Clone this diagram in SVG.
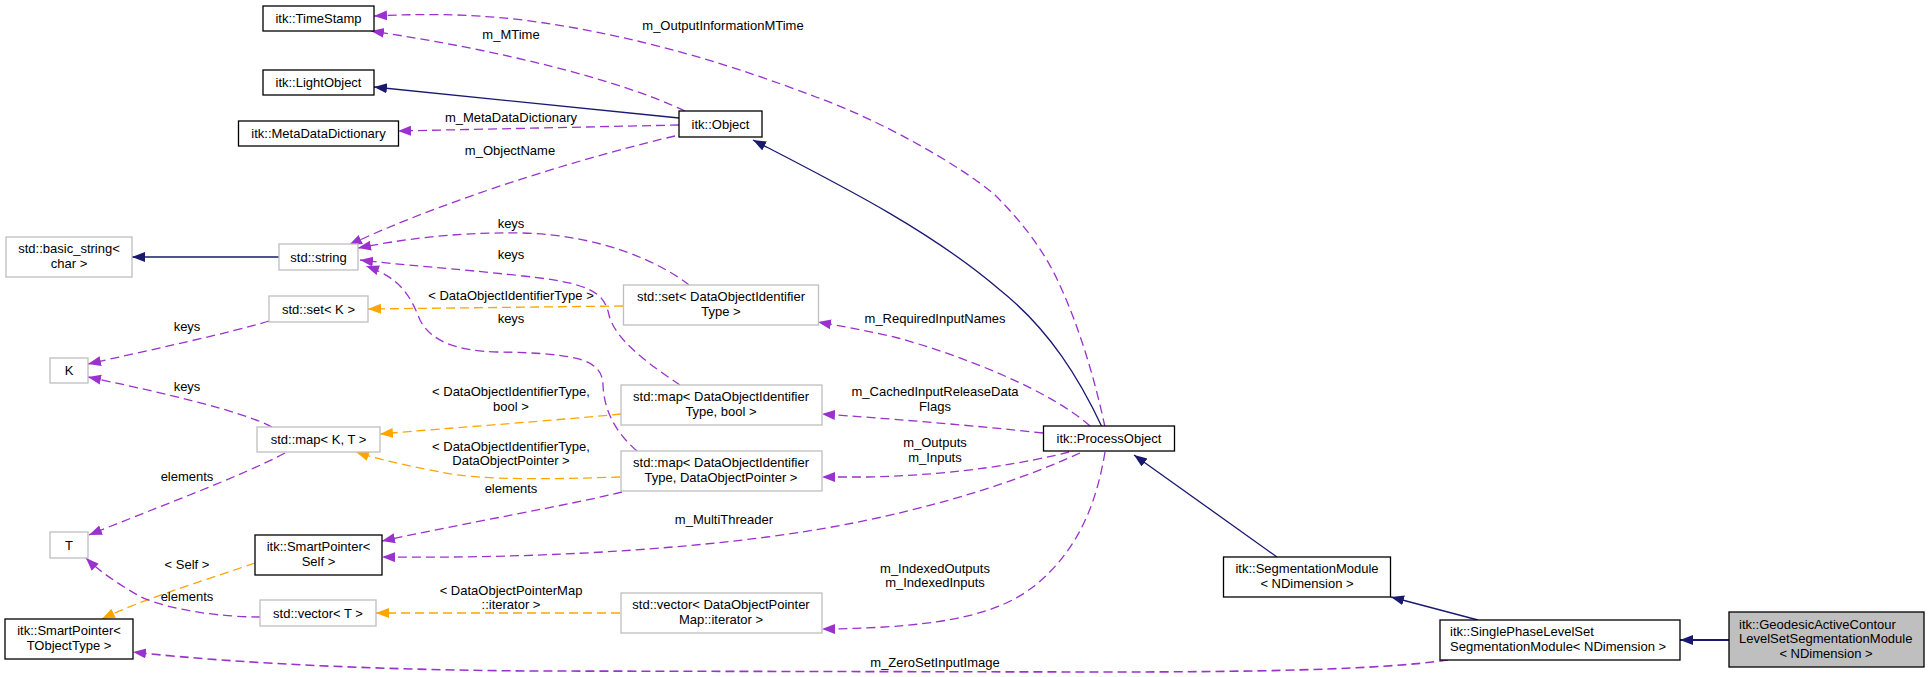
<svg xmlns="http://www.w3.org/2000/svg" width="1929" height="677" viewBox="0 0 1929 677">
<style>
.nd rect{fill:#fff;stroke:#000;stroke-width:1.3}
.nd.u rect{stroke:#bfbfbf}
.nd.g rect{fill:#bfbfbf}
text{font-family:"Liberation Sans",Arial,Helvetica,sans-serif;font-size:13px;fill:#000}
.c{text-anchor:middle}
.e path{fill:none}
.p{stroke:#9a32cd;stroke-width:1.3;stroke-dasharray:9,5}
.o{stroke:#ffa500;stroke-width:1.3;stroke-dasharray:9,5}
.b{stroke:#191970;stroke-width:1.3}
.lbl text{text-anchor:middle}
</style>
<defs>
<marker id="ap" markerUnits="userSpaceOnUse" markerWidth="14" markerHeight="11" refX="13" refY="5" orient="auto"><path d="M0,0 L13,5 L0,10 z" fill="#9a32cd"/></marker>
<marker id="ao" markerUnits="userSpaceOnUse" markerWidth="14" markerHeight="11" refX="13" refY="5" orient="auto"><path d="M0,0 L13,5 L0,10 z" fill="#ffa500"/></marker>
<marker id="ab" markerUnits="userSpaceOnUse" markerWidth="14" markerHeight="11" refX="13" refY="5" orient="auto"><path d="M0,0 L13,5 L0,10 z" fill="#191970"/></marker>
</defs>
<rect width="1929" height="677" fill="#fff"/>
<g id="edges" class="e">
<path class="p" marker-end="url(#ap)" d="M1105,427 C1095,380 1080,330 1062,290 C1045,250 1020,220 995,195 C960,165 880,120 816,97 C740,68 640,35 523,20 C460,13 420,14 374,16"/>
<path class="p" marker-end="url(#ap)" d="M685,111 C620,80 500,50 371,31"/>
<path class="b" marker-end="url(#ab)" d="M679,118 L374,87"/>
<path class="p" marker-end="url(#ap)" d="M679,125 L398,131"/>
<path class="p" marker-end="url(#ap)" d="M675,136 C605,152 455,195 349,245"/>
<path class="b" marker-end="url(#ab)" d="M279,257 L132,257"/>
<path class="p" marker-end="url(#ap)" d="M689,285 C660,262 600,235 523,233 C450,232 400,240 358,248"/>
<path class="p" marker-end="url(#ap)" d="M680,385 C650,365 615,340 609,315 C604,292 590,283 523,276 C450,268 400,265 360,260"/>
<path class="p" marker-end="url(#ap)" d="M637,451 C615,432 604,410 603,385 C602,362 585,353 497,352 C455,351 430,340 420,320 C410,295 400,278 366,266"/>
<path class="o" marker-end="url(#ao)" d="M623,306 L368,309"/>
<path class="p" marker-end="url(#ap)" d="M269,321 C230,333 150,350 88,364"/>
<path class="p" marker-end="url(#ap)" d="M272,427 C240,410 150,390 88,377"/>
<path class="o" marker-end="url(#ao)" d="M621,414 C560,420 450,428 380,434"/>
<path class="o" marker-end="url(#ao)" d="M620,477 C560,479 480,481 440,472 C410,466 380,460 356,452"/>
<path class="p" marker-end="url(#ap)" d="M285,453 C240,477 150,510 89,535"/>
<path class="p" marker-end="url(#ap)" d="M622,492 C570,505 470,522 382,541"/>
<path class="p" marker-end="url(#ap)" d="M1080,453 C1010,485 900,520 767,537 C620,556 470,558 382,557"/>
<path class="o" marker-end="url(#ao)" d="M255,563 C200,582 140,600 102,619"/>
<path class="p" marker-end="url(#ap)" d="M260,617 C220,617 170,610 141,597 C120,585 100,572 86,558"/>
<path class="o" marker-end="url(#ao)" d="M620,613 L376,613"/>
<path class="p" marker-end="url(#ap)" style="stroke-width:1.6" d="M1448,660 C1380,670 1250,672 1100,672 L530,671 C400,670 250,665 133,652"/>
<path class="p" marker-end="url(#ap)" d="M1090,426 C1050,390 960,355 898,338 C870,331 840,326 818,322"/>
<path class="p" marker-end="url(#ap)" d="M1043,433 C970,425 880,418 822,414"/>
<path class="p" marker-end="url(#ap)" d="M1069,452 C1030,462 960,475 868,477 L822,477"/>
<path class="p" marker-end="url(#ap)" d="M1105,452 C1097,500 1080,550 1033,587 C1000,612 950,628 822,629"/>
<path class="b" marker-end="url(#ab)" d="M1102,427 C1080,380 1050,330 1000,290 C930,230 840,185 753,140"/>
<path class="b" marker-end="url(#ab)" d="M1277,557 L1134,455"/>
<path class="b" marker-end="url(#ab)" d="M1478,620 L1391,597"/>
<path class="b" marker-end="url(#ab)" style="stroke-width:2" d="M1729,640 L1680,640"/>
</g>
<g id="labels" class="lbl">
<text x="723" y="30">m_OutputInformationMTime</text>
<text x="511" y="39">m_MTime</text>
<text x="511" y="122">m_MetaDataDictionary</text>
<text x="510" y="155">m_ObjectName</text>
<text x="511" y="228">keys</text>
<text x="511" y="259">keys</text>
<text x="511" y="300">&lt; DataObjectIdentifierType &gt;</text>
<text x="511" y="323">keys</text>
<text x="187" y="331">keys</text>
<text x="187" y="391">keys</text>
<text x="511" y="396">&lt; DataObjectIdentifierType,</text>
<text x="511" y="411">bool &gt;</text>
<text x="511" y="451">&lt; DataObjectIdentifierType,</text>
<text x="511" y="465">DataObjectPointer &gt;</text>
<text x="187" y="481">elements</text>
<text x="511" y="493">elements</text>
<text x="724" y="524">m_MultiThreader</text>
<text x="187" y="569">&lt; Self &gt;</text>
<text x="187" y="601">elements</text>
<text x="511" y="595">&lt; DataObjectPointerMap</text>
<text x="511" y="609">::iterator &gt;</text>
<text x="935" y="323">m_RequiredInputNames</text>
<text x="935" y="396">m_CachedInputReleaseData</text>
<text x="935" y="411">Flags</text>
<text x="935" y="447">m_Outputs</text>
<text x="935" y="462">m_Inputs</text>
<text x="935" y="573">m_IndexedOutputs</text>
<text x="935" y="587">m_IndexedInputs</text>
<text x="935" y="667">m_ZeroSetInputImage</text>
</g>
<g id="n_timestamp" class="nd"><rect x="263" y="6" width="111" height="25"/><text class="c" x="318.5" y="23">itk::TimeStamp</text></g>
<g id="n_lightobject" class="nd"><rect x="263" y="70" width="111" height="25"/><text class="c" x="318.5" y="87">itk::LightObject</text></g>
<g id="n_metadatadictionary" class="nd"><rect x="238.5" y="121" width="160" height="25"/><text class="c" x="318.5" y="138">itk::MetaDataDictionary</text></g>
<g id="n_object" class="nd"><rect x="679" y="111" width="83" height="26"/><text class="c" x="720.5" y="128.5">itk::Object</text></g>
<g id="n_basic_string" class="nd u"><rect x="6" y="237" width="126" height="40"/><text class="c" x="69" y="253">std::basic_string&lt;</text><text class="c" x="69" y="268">char &gt;</text></g>
<g id="n_string" class="nd u"><rect x="279" y="244" width="79" height="26"/><text class="c" x="318.5" y="261.5">std::string</text></g>
<g id="n_set_k" class="nd u"><rect x="269" y="296" width="99" height="26"/><text class="c" x="318.5" y="313.5">std::set&lt; K &gt;</text></g>
<g id="n_set_doi" class="nd u"><rect x="623.5" y="285" width="195" height="40"/><text class="c" x="721" y="301">std::set&lt; DataObjectIdentifier</text><text class="c" x="721" y="316">Type &gt;</text></g>
<g id="n_k" class="nd u"><rect x="50" y="358" width="38" height="25"/><text class="c" x="69" y="375">K</text></g>
<g id="n_map_kt" class="nd u"><rect x="257" y="427" width="123" height="25"/><text class="c" x="318.5" y="444">std::map&lt; K, T &gt;</text></g>
<g id="n_map_bool" class="nd u"><rect x="621" y="385" width="201" height="40"/><text class="c" x="721" y="401">std::map&lt; DataObjectIdentifier</text><text class="c" x="721" y="416">Type, bool &gt;</text></g>
<g id="n_map_dop" class="nd u"><rect x="621" y="451" width="201" height="40"/><text class="c" x="721" y="467">std::map&lt; DataObjectIdentifier</text><text class="c" x="721" y="482">Type, DataObjectPointer &gt;</text></g>
<g id="n_t" class="nd u"><rect x="50" y="532" width="38" height="26"/><text class="c" x="69" y="549.5">T</text></g>
<g id="n_sp_self" class="nd"><rect x="255" y="535" width="127" height="40"/><text class="c" x="318.5" y="551">itk::SmartPointer&lt;</text><text class="c" x="318.5" y="566">Self &gt;</text></g>
<g id="n_vector_t" class="nd u"><rect x="260" y="600" width="116" height="26"/><text class="c" x="318" y="617.5">std::vector&lt; T &gt;</text></g>
<g id="n_sp_tobj" class="nd"><rect x="5" y="619" width="128" height="40"/><text class="c" x="69" y="635">itk::SmartPointer&lt;</text><text class="c" x="69" y="650">TObjectType &gt;</text></g>
<g id="n_vector_dop" class="nd u"><rect x="621" y="593" width="201" height="40"/><text class="c" x="721" y="609">std::vector&lt; DataObjectPointer</text><text class="c" x="721" y="624">Map::iterator &gt;</text></g>
<g id="n_processobject" class="nd"><rect x="1043.5" y="426" width="131" height="25"/><text class="c" x="1109" y="443">itk::ProcessObject</text></g>
<g id="n_segmodule" class="nd"><rect x="1223.5" y="557" width="167" height="40"/><text class="c" x="1307" y="573">itk::SegmentationModule</text><text class="c" x="1307" y="588">&lt; NDimension &gt;</text></g>
<g id="n_singlephase" class="nd"><rect x="1440" y="620" width="240" height="40"/><text x="1450" y="636">itk::SinglePhaseLevelSet</text><text x="1450" y="651">SegmentationModule&lt; NDimension &gt;</text></g>
<g id="n_geodesic" class="nd g"><rect x="1729" y="612" width="195" height="55"/><text x="1739" y="629">itk::GeodesicActiveContour</text><text x="1739" y="643">LevelSetSegmentationModule</text><text class="c" x="1826" y="658">&lt; NDimension &gt;</text></g>
</svg>
